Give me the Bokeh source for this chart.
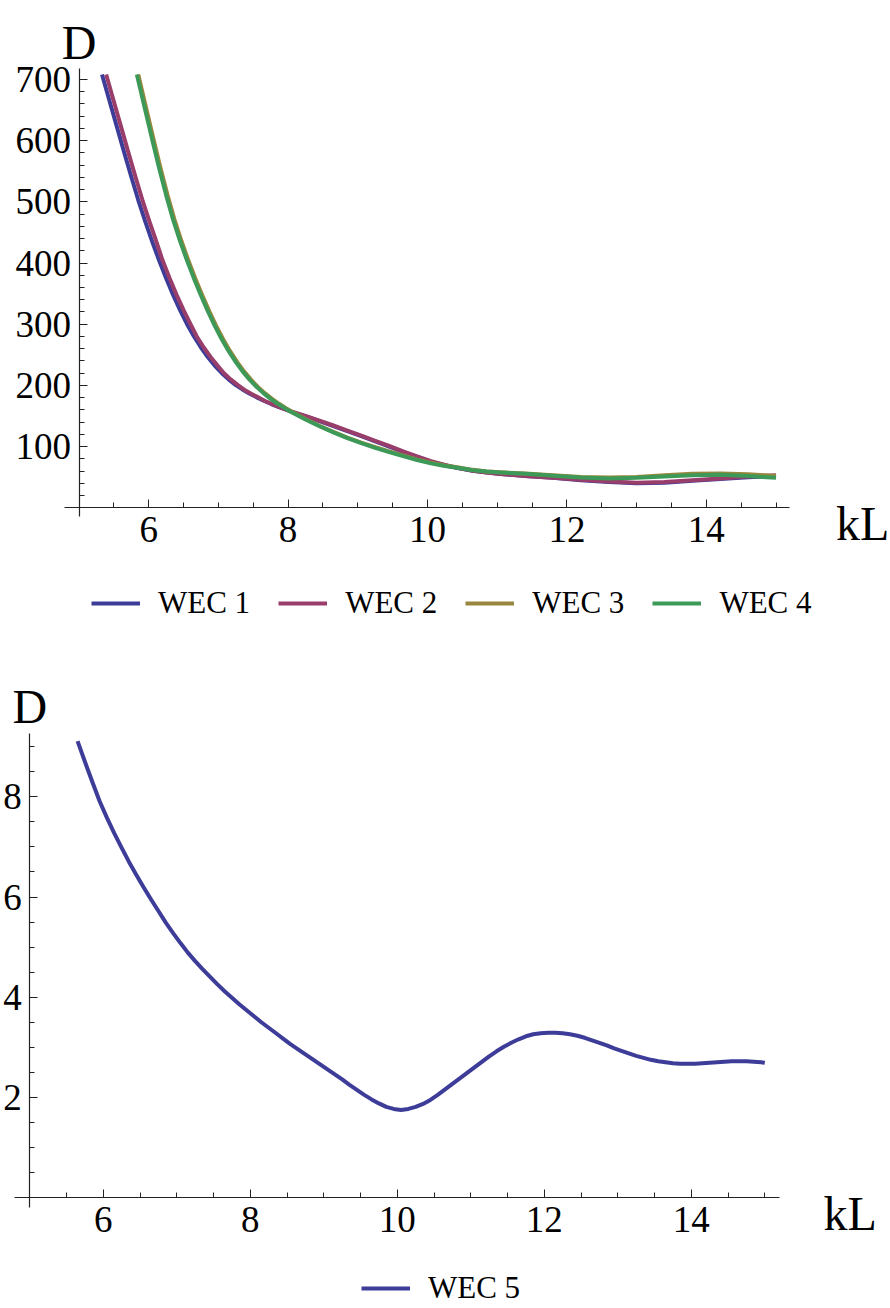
from bokeh.plotting import figure
from bokeh.models import Range1d, FixedTicker, Label, Legend, LegendItem, LinearAxis
from bokeh.layouts import column
from bokeh.embed import file_html
from bokeh.resources import INLINE

# ---------------- data ----------------
wec1_x = [5.33, 5.45, 5.55, 5.65, 5.75, 5.85, 5.95, 6.05, 6.15, 6.25, 6.35, 6.45, 6.55, 6.65, 6.75, 6.85,
          6.95, 7.05, 7.15, 7.25, 7.35, 7.45, 7.55, 7.65, 7.75, 7.85, 7.95, 8.05, 8.25, 8.45, 8.65, 8.85,
          9.05, 9.25, 9.45, 9.65, 9.85, 10.05, 10.25, 10.45, 10.65, 10.85, 11.05, 11.40, 11.80, 12.20,
          12.60, 13.00, 13.40, 13.80, 14.20, 14.60, 15.00]
wec1_y = [708, 660, 620, 580, 541, 503, 468, 435, 404, 375, 348, 323, 300, 280, 262, 246,
          232, 220, 209.5, 200.5, 193, 186.5, 180.5, 175, 170, 165.5, 161.3, 157.3, 149.5, 141.6, 133.6, 125.4,
          117, 108.5, 100, 91.3, 83, 75.5, 69.5, 64.5, 60.5, 57.5, 55.2, 52, 49, 45,
          42, 40, 41, 44, 47, 50, 52]

wec2_x = [5.39, 5.51, 5.61, 5.71, 5.81, 5.91, 6.01, 6.11, 6.20, 6.30, 6.40, 6.50, 6.60, 6.69, 6.79, 6.89,
          6.99, 7.08, 7.18, 7.28, 7.37, 7.47, 7.57, 7.66, 7.76, 7.86, 7.95, 8.05, 8.25, 8.45, 8.65, 8.85,
          9.05, 9.25, 9.45, 9.65, 9.85, 10.05, 10.25, 10.45, 10.65, 10.85, 11.05, 11.40, 11.80, 12.20,
          12.60, 13.00, 13.40, 13.80, 14.20, 14.60, 15.00]
wec2_y = [708, 660, 620, 580, 541, 503, 468, 435, 404, 375, 348, 323, 300, 280, 262, 246,
          232, 220, 209.5, 200.5, 193, 186.5, 180.5, 175, 170, 165.5, 161.3, 157.3, 150, 142.5, 134.5, 126.3,
          118, 109.5, 101, 92.3, 84, 76.2, 70, 64.8, 60.5, 57.5, 55.2, 52, 49, 46,
          43, 41, 42, 45, 48, 51, 53]

wec3_x = [5.85, 5.97, 6.07, 6.17, 6.27, 6.37, 6.47, 6.57, 6.67, 6.77, 6.87, 6.97, 7.07, 7.17, 7.27, 7.37,
          7.47, 7.57, 7.67, 7.77, 7.87, 7.97, 8.07, 8.25, 8.45, 8.65, 8.85, 9.05, 9.25, 9.45, 9.65, 9.85,
          10.05, 10.25, 10.45, 10.65, 10.85, 11.05, 11.40, 11.80, 12.20, 12.60, 13.00, 13.40, 13.80,
          14.20, 14.60, 15.00]
wec3_y = [708, 650, 602, 555, 511, 471, 436, 404, 374.5, 347, 321, 297, 275, 255.5, 238, 222.5,
          209, 197.2, 187, 178, 170, 162.8, 156.3, 145, 134, 124, 114.8, 106.5, 99, 92, 85.4, 79.2,
          73.6, 69, 65.8, 62, 59.5, 58, 56, 53, 50.5, 49.5, 50.5, 53, 55.5,
          56, 55, 52]

wec4_x = [5.83, 5.95, 6.05, 6.15, 6.25, 6.35, 6.45, 6.55, 6.65, 6.75, 6.85, 6.95, 7.05, 7.15, 7.25, 7.35,
          7.45, 7.55, 7.65, 7.75, 7.85, 7.95, 8.05, 8.25, 8.45, 8.65, 8.85, 9.05, 9.25, 9.45, 9.65, 9.85,
          10.05, 10.25, 10.45, 10.65, 10.85, 11.05, 11.40, 11.80, 12.20, 12.60, 13.00, 13.40, 13.80,
          14.20, 14.60, 15.00]
wec4_y = [708, 650, 602, 555, 511, 471, 436, 404, 374.5, 347, 321, 297, 275, 255.5, 238, 222.5,
          209, 197.2, 187, 178, 170, 162.8, 156.3, 144.3, 133.3, 123.3, 114, 105.6, 98, 91, 84.4, 78.2,
          72.6, 68.2, 65, 61.5, 59.2, 57.5, 55.5, 52.5, 49.5, 48, 49, 51, 53,
          54, 52, 49]

wec5_x = [5.65, 5.75, 5.85, 5.95, 6.05, 6.15, 6.25, 6.35, 6.45, 6.55, 6.65, 6.75, 6.85, 6.95, 7.05,
          7.15, 7.25, 7.35, 7.45, 7.55, 7.65, 7.75, 7.85, 7.95, 8.05, 8.15, 8.25, 8.35, 8.45, 8.55,
          8.65, 8.75, 8.85, 8.95, 9.05, 9.15, 9.25, 9.35, 9.45, 9.55, 9.65, 9.75, 9.85, 9.95, 10.05,
          10.15, 10.25, 10.35, 10.45, 10.55, 10.65, 10.75, 10.85, 10.95, 11.05, 11.15, 11.25, 11.35,
          11.45, 11.55, 11.65, 11.75, 11.85, 11.95, 12.05, 12.15, 12.25, 12.35, 12.45, 12.55, 12.65,
          12.75, 12.85, 12.95, 13.05, 13.15, 13.25, 13.35, 13.45, 13.55, 13.65, 13.75, 13.85, 13.95,
          14.05, 14.15, 14.25, 14.35, 14.45, 14.55, 14.65, 14.75, 14.85, 14.95, 15.00]
wec5_y = [9.11, 8.70, 8.30, 7.91, 7.58, 7.27, 6.98, 6.70, 6.44, 6.19, 5.95, 5.72, 5.49, 5.28, 5.08,
          4.89, 4.72, 4.56, 4.41, 4.26, 4.12, 3.99, 3.86, 3.74, 3.62, 3.50, 3.39, 3.28, 3.17, 3.06,
          2.96, 2.86, 2.76, 2.66, 2.56, 2.46, 2.36, 2.25, 2.15, 2.05, 1.96, 1.88, 1.81, 1.77, 1.75,
          1.77, 1.81, 1.87, 1.95, 2.05, 2.16, 2.27, 2.38, 2.49, 2.60, 2.71, 2.82, 2.92,
          3.01, 3.09, 3.16, 3.22, 3.26, 3.28, 3.29, 3.29, 3.28, 3.26, 3.23, 3.19, 3.14,
          3.09, 3.04, 2.98, 2.93, 2.88, 2.83, 2.79, 2.75, 2.72, 2.70, 2.68, 2.67, 2.67,
          2.67, 2.68, 2.69, 2.70, 2.71, 2.72, 2.72, 2.72, 2.71, 2.70, 2.69]

top_names = ["WEC 1", "WEC 2", "WEC 3", "WEC 4"]
top_colors = ["#3D3D99", "#993D6B", "#99873D", "#3D9957"]
bottom_name = "WEC 5"
bottom_color = "#3D3D99"

x_major = [6, 8, 10, 12, 14]
x_minor = [5.5, 6.5, 7, 7.5, 8.5, 9, 9.5, 10.5, 11, 11.5, 12.5, 13, 13.5, 14.5, 15]
top_y_major = [100, 200, 300, 400, 500, 600, 700]
top_y_minor = [20, 40, 60, 80, 120, 140, 160, 180, 220, 240, 260, 280, 320, 340, 360, 380,
               420, 440, 460, 480, 520, 540, 560, 580, 620, 640, 660, 680]
bot_y_major = [2, 4, 6, 8]
bot_y_minor = [0.5, 1, 1.5, 2.5, 3, 3.5, 4.5, 5, 5.5, 6.5, 7, 7.5, 8.5, 9]

FONT = "Liberation Serif"


def make_axis(fixed, bounds, ticker, standoff):
    ax = LinearAxis(fixed_location=fixed, bounds=bounds, ticker=ticker)
    ax.axis_line_color = "#222222"
    ax.axis_line_width = 1.2
    ax.major_tick_line_color = "#222222"
    ax.minor_tick_line_color = "#222222"
    ax.major_tick_in = 8
    ax.major_tick_out = 0
    ax.minor_tick_in = 5
    ax.minor_tick_out = 0
    ax.major_label_text_font = FONT
    ax.major_label_text_font_size = "37px"
    ax.major_label_text_color = "black"
    ax.major_label_standoff = standoff
    return ax


def base_figure(h, xr, yr):
    p = figure(width=890, height=h, output_backend="svg", toolbar_location=None, title=None,
               x_range=Range1d(*xr), y_range=Range1d(*yr),
               x_axis_location=None, y_axis_location=None,
               min_border=0, min_border_left=0, min_border_right=0,
               min_border_top=0, min_border_bottom=0)
    p.xgrid.visible = False
    p.ygrid.visible = False
    p.outline_line_color = None
    return p


def axis_labels(p, xend, yend, d_off, kl_off):
    p.add_layout(Label(x=5, y=yend, y_offset=d_off, text="D", text_font=FONT,
                       text_font_size="48px", text_align="center", text_baseline="alphabetic",
                       text_color="black"))
    p.add_layout(Label(x=xend, y=0, x_offset=kl_off, y_offset=-16, text="kL", text_font=FONT,
                       text_font_size="48px", text_align="left", text_baseline="alphabetic",
                       text_color="black"))


def make_legend(items, loc):
    return Legend(items=items, orientation="horizontal", location=loc,
                  padding=0, margin=0, spacing=28, label_standoff=18, glyph_width=49,
                  glyph_height=24, label_height=24, border_line_color=None,
                  background_fill_alpha=0, label_text_font=FONT, label_text_font_size="31px",
                  label_text_color="black")


# ---------------- top figure (y-axis at pixel 78.5, 69.7 px per kL; 0.6119 px per D) ----------------
H1 = 640
p1 = base_figure(H1, (5 - 78.5 / 69.7, 5 - 78.5 / 69.7 + 890 / 69.7),
                 (-(H1 - 507.3) / 0.6119, 507.3 / 0.6119))
p1.add_layout(make_axis(0, (4.79, 15.2), FixedTicker(ticks=x_major, minor_ticks=x_minor), 9), "below")
p1.add_layout(make_axis(5, (-15, 718), FixedTicker(ticks=top_y_major, minor_ticks=top_y_minor), 8), "left")

series = [(wec1_x, wec1_y), (wec2_x, wec2_y), (wec3_x, wec3_y), (wec4_x, wec4_y)]
items = []
for (xs, ys), name, col in zip(series, top_names, top_colors):
    r = p1.line(xs, ys, line_color=col, line_width=4, line_join="round")
    items.append(LegendItem(label=name, renderers=[r]))
p1.add_layout(make_legend(items, (91, H1 - 621)), "center")
axis_labels(p1, 15.2, 718, 26, 46)

# ---------------- bottom figure (y-axis at pixel 29.3, 73.5 px per kL; 50.1 px per D) ----------------
H2 = 668
p2 = base_figure(H2, (5 - 29.3 / 73.5, 5 - 29.3 / 73.5 + 890 / 73.5),
                 (-(H2 - 557.1) / 50.1, 557.1 / 50.1))
p2.add_layout(make_axis(0, (4.79, 15.2), FixedTicker(ticks=x_major, minor_ticks=x_minor), 9), "below")
p2.add_layout(make_axis(5, (-0.19, 9.26), FixedTicker(ticks=bot_y_major, minor_ticks=bot_y_minor), 8), "left")
r5 = p2.line(wec5_x, wec5_y, line_color=bottom_color, line_width=4, line_join="round")
p2.add_layout(make_legend([LegendItem(label=bottom_name, renderers=[r5])], (361, H2 - 666)), "center")
axis_labels(p2, 15.2, 9.26, 27, 44)

layout = column(p1, p2, spacing=0)
open("out.html", "w").write(file_html(layout, INLINE))
